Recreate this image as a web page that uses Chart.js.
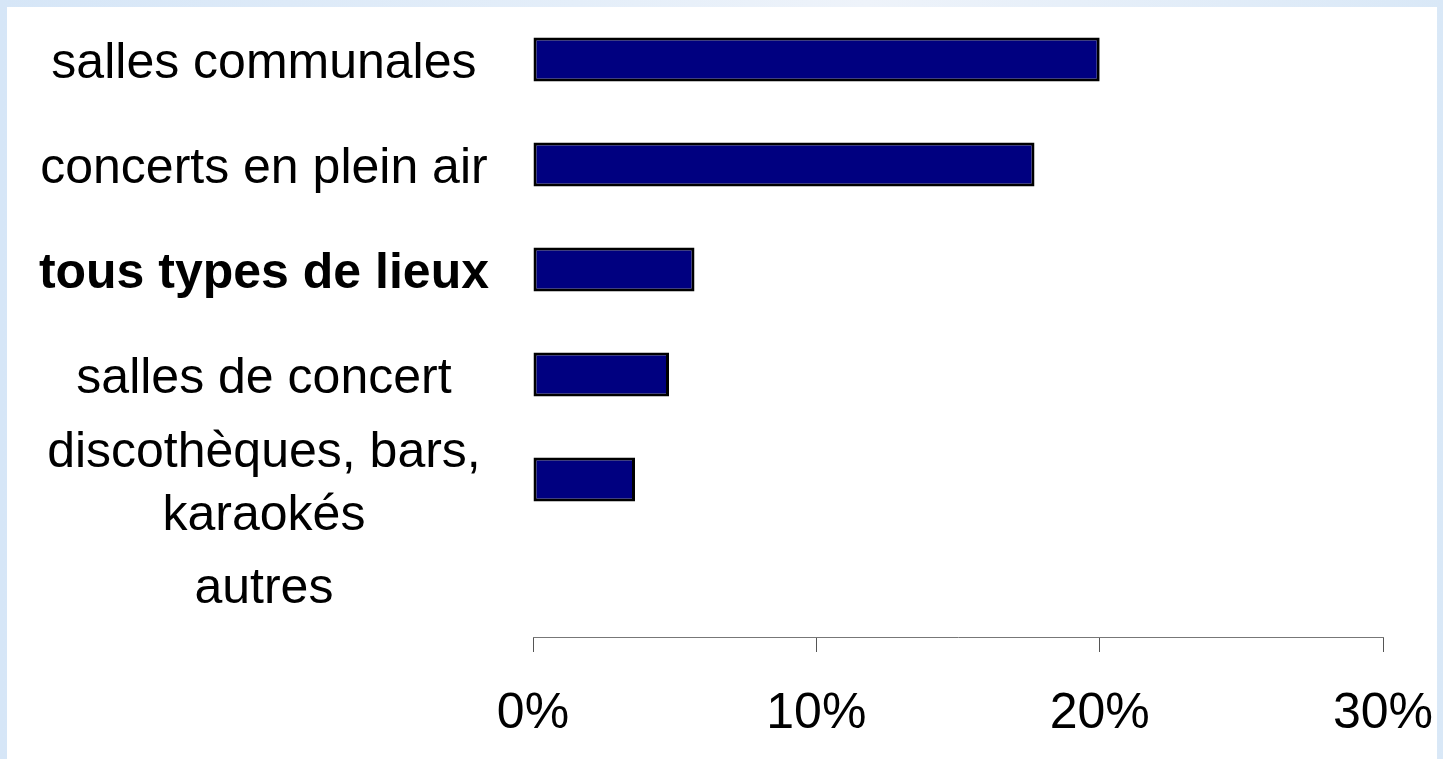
<!DOCTYPE html>
<html>
<head>
<meta charset="utf-8">
<script src="https://cdn.jsdelivr.net/npm/chart.js@4"></script>
<style>
  html, body { margin: 0; padding: 0; }
  body {
    width: 1443px; height: 759px; overflow: hidden;
    background: linear-gradient(90deg, #d6e6f7 0%, #e4eef9 40%, #eef3fa 60%, #d9e8f7 100%);
    position: relative;
  }
  #panel {
    position: absolute; left: 7px; top: 7px; width: 1430px; height: 752px;
    background: #ffffff;
  }
</style>
</head>
<body>
<div id="panel"><canvas id="chart" width="1430" height="752"></canvas></div>
<script>
// Catégories (axe vertical) et valeurs en %
const categories = [
  'salles communales',
  'concerts en plein air',
  'tous types de lieux',
  'salles de concert',
  ['discothèques, bars,', 'karaokés'],
  'autres'
];
const valeurs = [20.0, 17.7, 5.7, 4.8, 3.6, 0];
const ticksX = [0, 10, 20, 30];

const ctx = document.getElementById('chart').getContext('2d');
new Chart(ctx, {
  type: 'bar',
  data: {
    labels: categories,
    datasets: [{
      data: valeurs,
      backgroundColor: '#000080',
      borderColor: '#000000',
      borderWidth: 3,
      borderSkipped: false,
      categoryPercentage: 1,
      barPercentage: 0.42
    }]
  },
  options: {
    indexAxis: 'y',
    responsive: false,
    animation: false,
    layout: { padding: { left: 0, right: 54, top: 0, bottom: 0 } },
    plugins: { legend: { display: false }, tooltip: { enabled: false } },
    scales: {
      x: {
        min: 0,
        max: 30,
        afterBuildTicks: function(scale) {
          scale.ticks = ticksX.map(v => ({ value: v }));
        },
        afterFit: function(scale) {
          scale.height = 122;
          scale.paddingLeft = 0;
          scale.paddingRight = 0;
        },
        grid: { drawOnChartArea: false, drawTicks: true, tickLength: 15, color: '#555' },
        border: { display: true, color: '#777', width: 1 },
        ticks: {
          color: '#000',
          padding: 32,
          autoSkip: false,
          font: { family: 'Liberation Sans, Arial, sans-serif', size: 50 },
          callback: v => v + '%'
        }
      },
      y: {
        afterFit: function(scale) {
          scale.width = 526;
          scale.paddingTop = 0;
          scale.paddingBottom = 0;
        },
        grid: { display: false, drawTicks: false },
        border: { display: false },
        ticks: {
          color: '#000',
          crossAlign: 'center',
          autoSkip: false,
          padding: 44,
          labelOffset: 5,
          font: function(c) {
            return {
              family: 'Liberation Sans, Arial, sans-serif',
              size: 50,
              weight: c.index === 2 ? 'bold' : 'normal',
              lineHeight: 1.25
            };
          }
        }
      }
    }
  }
});
</script>
</body>
</html>
